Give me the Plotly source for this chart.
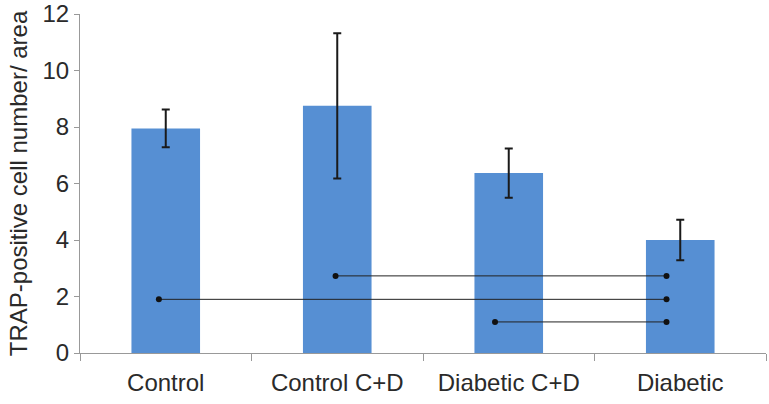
import plotly.graph_objects as go

categories = ["Control", "Control C+D", "Diabetic C+D", "Diabetic"]
means = [7.95, 8.75, 6.37, 4.0]
errors = [0.67, 2.57, 0.87, 0.72]

# significance lines: (x_start, x_end, y) in category-index units
line_x_start = [0.99, -0.04, 1.92]
line_x_end = [2.92, 2.92, 2.92]
line_y = [2.73, 1.9, 1.1]

y_ticks = [0, 2, 4, 6, 8, 10, 12]
y_title = "TRAP-positive cell number/ area"

font = "Liberation Sans, Arial, sans-serif"

fig = go.Figure()
fig.add_trace(go.Bar(
    x=categories, y=means,
    marker=dict(color="#568FD3", line=dict(width=0)),
    error_y=dict(type="data", array=errors, color="#1a1a1a", thickness=2, width=4),
    width=0.4, showlegend=False, hoverinfo="skip",
))
for xs, xe, yv in zip(line_x_start, line_x_end, line_y):
    fig.add_trace(go.Scatter(
        x=[xs, xe], y=[yv, yv], xaxis="x2", mode="lines+markers",
        line=dict(color="#222222", width=1),
        marker=dict(color="#111111", size=6),
        showlegend=False, hoverinfo="skip",
    ))

fig.update_layout(
    width=769, height=404,
    margin=dict(l=80, r=3, t=14, b=51, autoexpand=False),
    paper_bgcolor="white", plot_bgcolor="white",
    font=dict(family=font, size=24, color="#2a2a2a"),
    xaxis=dict(
        type="category", tickson="boundaries", ticks="outside", ticklen=7,
        tickcolor="#999999", showline=True, linecolor="#999999", linewidth=1,
        showgrid=False, tickfont=dict(size=24, color="#2a2a2a"),
        range=[-0.5, 3.5], automargin=False, ticklabelstandoff=8,
    ),
    xaxis2=dict(overlaying="x", range=[-0.5, 3.5], visible=False),
    yaxis=dict(
        range=[0, 12], tickvals=y_ticks, ticks="outside", ticklen=5,
        tickcolor="#999999", showline=True, linecolor="#999999", linewidth=1,
        showgrid=False, zeroline=False, tickfont=dict(size=24, color="#2a2a2a"),
        automargin=False,
        title=dict(text=y_title, font=dict(size=24, color="#2a2a2a"), standoff=8),
    ),
)

fig.write_html(
    "out.html",
    config={"displayModeBar": False},
    post_script="document.body.style.margin='0';",
)
